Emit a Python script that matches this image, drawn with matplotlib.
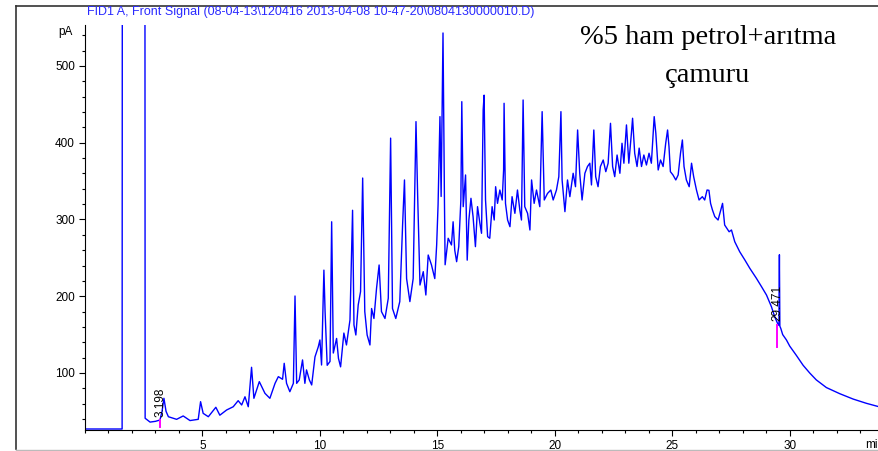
import numpy as np
import matplotlib.pyplot as plt
from matplotlib.lines import Line2D
from matplotlib.ticker import MultipleLocator

plt.rcParams['font.family'] = ['Liberation Sans', 'DejaVu Sans']

# retention time (min) and detector signal (pA)
times = [0.0, 1.58, 1.60, 2.54, 2.56, 2.77, 3.0, 3.19, 3.28, 3.36, 3.45, 3.55,
         3.90, 4.18, 4.47, 4.82, 4.92, 5.03, 5.25, 5.57, 5.74, 6.03, 6.31, 6.52,
         6.67, 6.81, 6.95, 7.09, 7.19, 7.42, 7.66, 7.87, 8.09, 8.23, 8.41, 8.48,
         8.58, 8.72, 8.87, 8.94, 9.01, 9.12, 9.26, 9.36, 9.43, 9.55, 9.65, 9.79,
         9.93, 10.0, 10.07, 10.17, 10.22, 10.31, 10.43, 10.50, 10.57, 10.71, 10.79,
         10.88, 11.02, 11.13, 11.28, 11.35, 11.39, 11.45, 11.53, 11.63, 11.73,
         11.82, 11.91, 12.01, 12.13, 12.20, 12.30, 12.41, 12.52, 12.62, 12.77,
         12.91, 13.01, 13.09, 13.23, 13.40, 13.52, 13.60, 13.69, 13.83, 13.97,
         14.09, 14.16, 14.26, 14.40, 14.51, 14.61, 14.75, 14.89, 14.97, 15.03,
         15.11, 15.16, 15.24, 15.30, 15.33, 15.46, 15.60, 15.67, 15.74, 15.82,
         15.91, 16.0, 16.04, 16.10, 16.20, 16.27, 16.34, 16.43, 16.52, 16.62,
         16.71, 16.81, 16.88, 16.95, 16.99, 17.05, 17.14, 17.23, 17.33, 17.42,
         17.48, 17.56, 17.66, 17.76, 17.82, 17.84, 17.90, 17.99, 18.09, 18.18,
         18.30, 18.41, 18.51, 18.58, 18.65, 18.72, 18.84, 18.94, 19.01, 19.12,
         19.22, 19.36, 19.46, 19.55, 19.69, 19.83, 19.93, 20.07, 20.17, 20.26,
         20.31, 20.43, 20.54, 20.64, 20.78, 20.88, 20.97, 21.06, 21.16, 21.28,
         21.39, 21.49, 21.56, 21.66, 21.74, 21.84, 21.94, 22.06, 22.17, 22.27,
         22.37, 22.46, 22.55, 22.65, 22.77, 22.86, 22.94, 23.05, 23.15, 23.26,
         23.31, 23.40, 23.50, 23.59, 23.69, 23.79, 23.90, 24.01, 24.11, 24.23,
         24.30, 24.40, 24.50, 24.61, 24.72, 24.80, 24.86, 24.92, 25.03, 25.15,
         25.25, 25.35, 25.43, 25.50, 25.60, 25.72, 25.82, 25.91, 26.03, 26.14,
         26.28, 26.38, 26.48, 26.56, 26.63, 26.71, 26.81, 26.95, 27.14, 27.23,
         27.42, 27.52, 27.66, 27.87, 28.09, 28.30, 28.58, 28.80, 29.01, 29.22,
         29.36, 29.48, 29.54, 29.56, 29.58, 29.62, 29.70, 29.86, 30.0, 30.28,
         30.57, 30.85, 31.13, 31.56, 32.13, 32.70, 33.26, 33.80]

signal = [27, 27, 1500, 1500, 41, 36, 37, 38.7, 50, 67, 50, 43,
          39.6, 44, 38, 39.6, 62.6, 47.4, 43, 55.3, 45, 51.8, 56, 63.9,
          58.3, 69, 56, 107.4, 67, 88.7, 73.5, 67, 86.5, 95.2, 91.8, 112.6,
          86.5, 75.6, 86.5, 200.3, 86.5, 91, 117, 86.5, 104, 91, 84.4, 121,
          134, 143, 110.4, 234, 180, 110, 115, 297, 126, 145, 119,
          108, 152, 136.5, 169, 258, 312, 162.5, 149.5, 188.6, 206,
          354, 180, 149.5, 136.5, 184, 171, 210, 240.7, 180, 171,
          197.3, 406, 184, 171, 193, 293, 351.5, 223, 193, 223,
          427.5, 332, 214.6, 232, 201.6, 253.7, 240.7, 223, 266.8, 319,
          434, 330, 543, 330, 241, 275.5, 266.8, 297, 260, 245,
          264.6, 325, 453.5, 316.7, 358, 247, 299, 327.6, 303.6, 264.6,
          316.7, 295, 282, 442.7, 462, 325.4, 277.6, 275.5, 316.7, 299.3,
          342.7, 321, 338.4, 325.4, 364.5, 451.4, 321, 299.3, 290.6, 329.7,
          308, 338.4, 312.4, 299.3, 455.7, 316.7, 308, 286.3, 351.5, 321,
          338.4, 316.7, 440.5, 325.4, 334, 338.4, 325.4, 338.4, 355.8, 440.5,
          351.5, 310.2, 351.5, 329.7, 360.2, 342.7, 416.6, 360.2, 325.4, 360.2,
          369, 373.3, 345, 416.6, 355.8, 342.7, 369, 377.5, 362.3, 373.3,
          425.3, 369, 355.8, 384, 360.2, 399.3, 373.3, 423.2, 373.3, 412.3,
          431.9, 386.3, 369, 393, 369, 384, 371, 386.3, 373.3, 434,
          412.3, 364.5, 377.5, 369, 399.3, 416.6, 395, 362.3, 358, 351.5,
          358, 386.3, 403.6, 369, 351.5, 342.7, 373.3, 355.8, 338.4, 325.4,
          329.7, 325.4, 338.4, 338, 321, 312.4, 303.7, 299.3, 321, 292.8,
          284, 286.3, 271, 258, 247.2, 236.4, 223.4, 212.4, 201.6, 186.4,
          173.3, 164.7, 162, 254, 161, 158, 150, 143, 135, 123,
          110, 100, 91, 81, 73, 66, 60.5, 56]

peak_rt = [3.198, 29.471]
peak_label_y = [42, 168]
marker_low = [30, 134]
marker_high = [39, 162]

title = r"FID1 A, Front Signal (08-04-13\120416 2013-04-08 10-47-20\0804130000010.D)"

fig = plt.figure(figsize=(8.79, 4.51), dpi=100)
ax = fig.add_axes([85 / 879, 1 - 430 / 451, 1 - 85 / 879, 405 / 451])

ax.plot(times, signal, color='#0000ff', linewidth=1.0)

# integration marks and retention time labels
for rt, ly, lo, hi in zip(peak_rt, peak_label_y, marker_low, marker_high):
    ax.plot([rt, rt], [lo, hi], color='#ff00ff', linewidth=1.4)
    ax.text(rt, ly, f"{rt:.3f}", rotation=90, ha='center', va='bottom',
            fontsize=8.5, color='black')

ax.set_xlim(0, 33.8)
ax.set_ylim(25.7, 553.4)
ax.spines['top'].set_visible(False)
ax.spines['right'].set_visible(False)
ax.xaxis.set_major_locator(MultipleLocator(5))
ax.xaxis.set_minor_locator(MultipleLocator(1))
ax.yaxis.set_major_locator(MultipleLocator(100))
ax.yaxis.set_minor_locator(MultipleLocator(20))
ax.tick_params(which='major', length=4.3, width=0.8, labelsize=8.5, pad=3)
ax.tick_params(which='minor', length=2.2, width=0.8)
ax.set_xticks([5, 10, 15, 20, 25, 30])
ax.set_yticks([100, 200, 300, 400, 500])

fig.text(73 / 879, 1 - 32 / 451, "pA", ha='right', va='center', fontsize=8.5)
fig.text(865 / 879, 1 - 445 / 451, "min", ha='left', va='center', fontsize=8.5)
fig.text(87 / 879, 1 - 12 / 451, title, ha='left', va='center', fontsize=9,
         color='#2a2aff')

fig.text(708 / 879, 1 - 37 / 451, "%5 ham petrol+arıtma", ha='center', va='center',
         fontsize=20.5, family='Liberation Serif')
fig.text(708 / 879, 1 - 75 / 451, "çamuru", ha='center', va='center',
         fontsize=20.5, family='Liberation Serif')

# outer frame of the report page
fig.add_artist(Line2D([16 / 879, 16 / 879], [1 - 5.5 / 451, 1 - 449 / 451],
                      transform=fig.transFigure, color='#333333', linewidth=1.2))
fig.add_artist(Line2D([16 / 879, 1], [1 - 5.5 / 451, 1 - 5.5 / 451],
                      transform=fig.transFigure, color='#333333', linewidth=1.2))
fig.add_artist(Line2D([16 / 879, 1], [1 - 449.5 / 451, 1 - 449.5 / 451],
                      transform=fig.transFigure, color='#bbbbbb', linewidth=1.0))

fig.savefig('out.png', dpi=100)
